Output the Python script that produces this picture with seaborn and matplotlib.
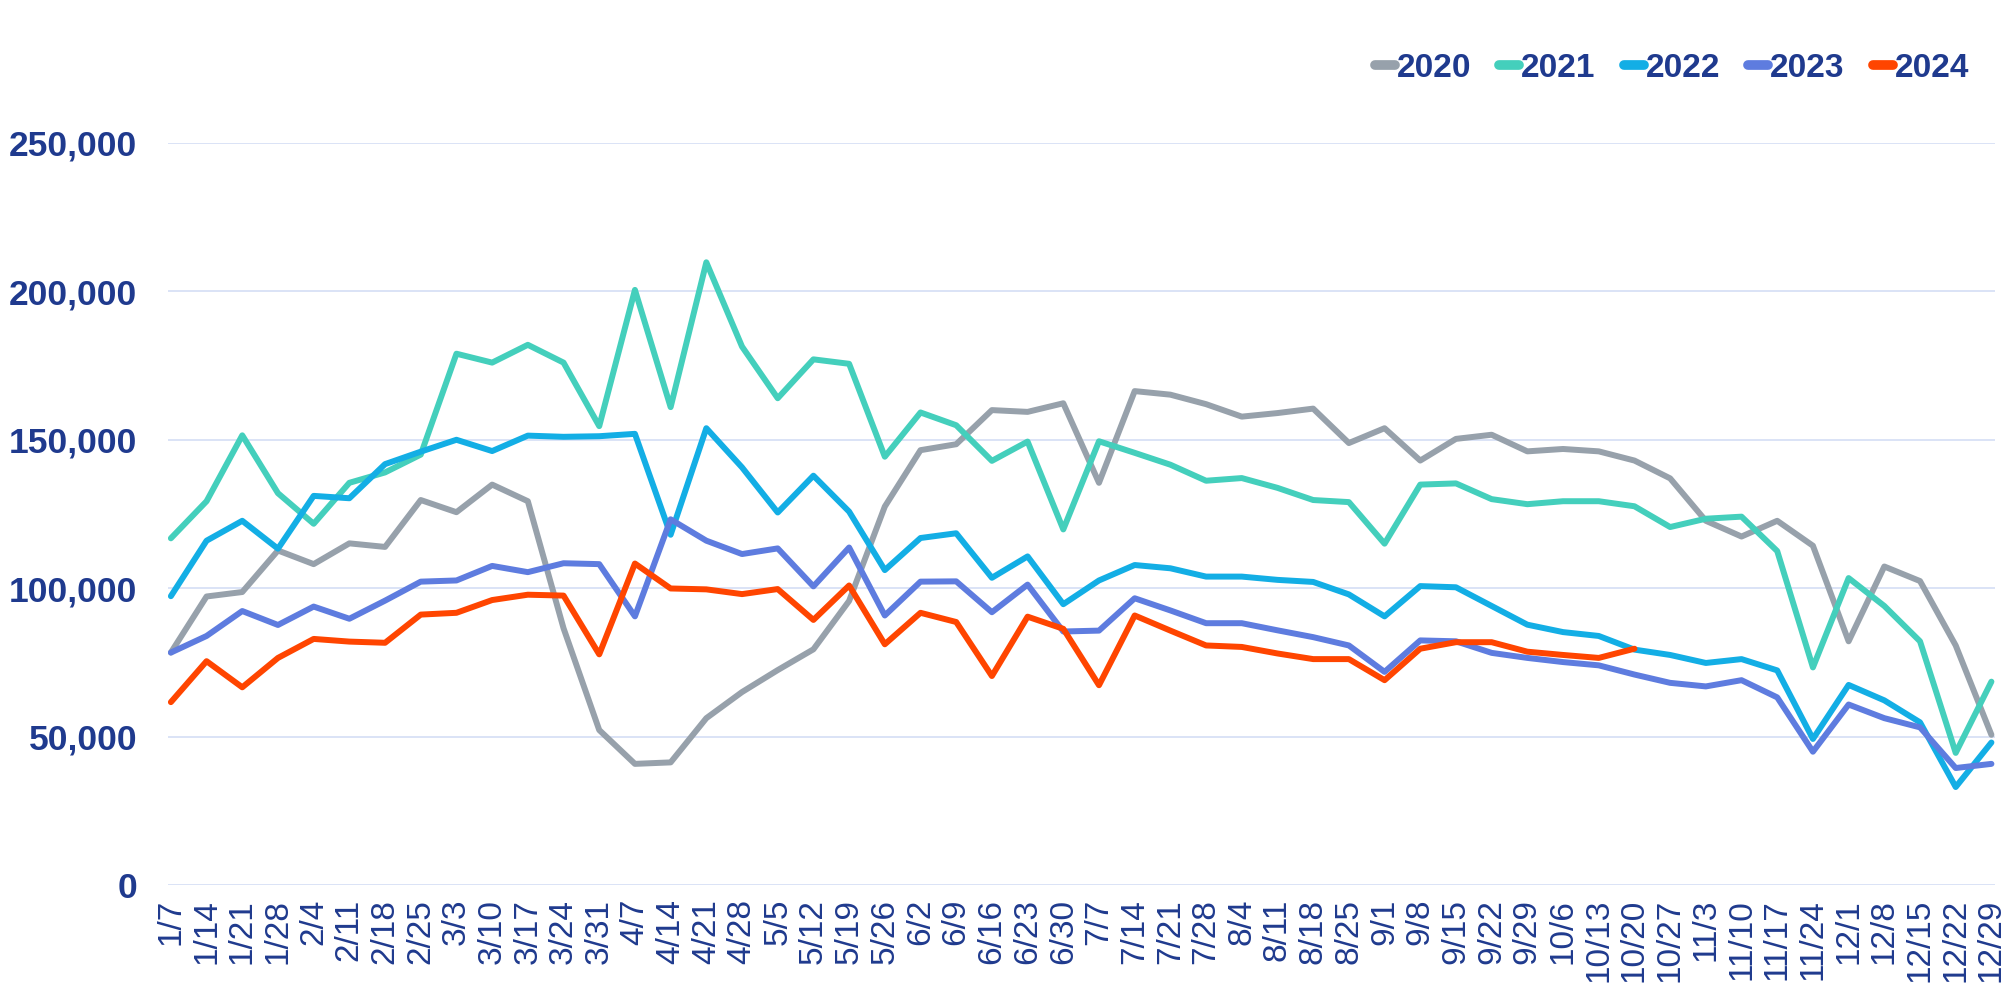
import pandas as pd
import matplotlib.pyplot as plt
import matplotlib.ticker as mticker
import seaborn as sns
import numpy as np

# weekly values
weeks = ['1/7', '1/14', '1/21', '1/28', '2/4', '2/11', '2/18', '2/25', '3/3', '3/10',
         '3/17', '3/24', '3/31', '4/7', '4/14', '4/21', '4/28', '5/5', '5/12', '5/19',
         '5/26', '6/2', '6/9', '6/16', '6/23', '6/30', '7/7', '7/14', '7/21', '7/28',
         '8/4', '8/11', '8/18', '8/25', '9/1', '9/8', '9/15', '9/22', '9/29', '10/6',
         '10/13', '10/20', '10/27', '11/3', '11/10', '11/17', '11/24', '12/1', '12/8',
         '12/15', '12/22', '12/29']

y2020 = [78300, 97200, 98700, 112700, 108100, 115100, 113900, 129700, 125600, 134900,
         129300, 86500, 52200, 40800, 41300, 56200, 65000, 72400, 79400, 95700,
         127500, 146500, 148500, 160000, 159400, 162300, 135500, 166400, 165200, 162000,
         157800, 159000, 160500, 148900, 153900, 143000, 150300, 151700, 146100, 146900,
         146100, 143000, 137000, 122700, 117400, 122700, 114300, 82100, 107300,
         102400, 80700, 50600]
y2021 = [116800, 129300, 151500, 132000, 121700, 135500, 139000, 145000, 179000, 176000,
         182000, 176000, 154600, 200500, 161000, 209800, 181400, 164000, 177100, 175600,
         144300, 159200, 154900, 142900, 149400, 119800, 149500, 145600, 141600, 136200,
         137100, 133800, 129700, 129000, 115000, 134900, 135300, 130000, 128300, 129300,
         129300, 127600, 120600, 123400, 124100, 112500, 73300, 103400, 94000,
         82100, 44500, 68500]
y2022 = [97300, 116000, 122700, 113300, 131100, 130300, 141800, 146000, 150000, 146200,
         151400, 151000, 151200, 152000, 118000, 153900, 140700, 125500, 137900, 125800,
         106100, 116900, 118500, 103500, 110700, 94600, 102600, 107800, 106700, 103900,
         103900, 102800, 102100, 97900, 90500, 100700, 100300, 94000, 87700, 85200,
         83900, 79300, 77500, 74800, 76100, 72300, 49200, 67400, 62200,
         54800, 33000, 48000]
y2023 = [78300, 83900, 92300, 87600, 93800, 89700, 95800, 102200, 102600, 107500,
         105400, 108400, 108100, 90500, 123200, 116000, 111500, 113400, 100600, 113700,
         90800, 102200, 102300, 91900, 101200, 85400, 85700, 96600, 92500, 88200,
         88200, 85800, 83500, 80700, 71800, 82400, 82100, 78200, 76500, 75100,
         74000, 70900, 68100, 66900, 69000, 63200, 44900, 60800, 56200,
         53100, 39400, 40800]
y2024 = [61600, 75400, 66600, 76500, 82900, 82000, 81600, 91100, 91700, 96000,
         97800, 97500, 77700, 108300, 99900, 99600, 98000, 99700, 89300, 100900,
         81100, 91700, 88600, 70400, 90400, 86300, 67300, 90800, 85700, 80700,
         80200, 78000, 76100, 76100, 69000, 79600, 81800, 81800, 78600, 77500,
         76500, 79600] + [np.nan] * 10

years = ['2020', '2021', '2022', '2023', '2024']
colors = ['#97A1AB', '#44CFBC', '#13AEE5', '#5E7CDF', '#FF4500']
text_color = '#1F3A8E'

frames = []
for year, vals in zip(years, [y2020, y2021, y2022, y2023, y2024]):
    frames.append(pd.DataFrame({'week': weeks, 'value': vals, 'year': year}))
df = pd.concat(frames, ignore_index=True).dropna()

sns.set_style('white')
plt.rcParams['font.family'] = ['Liberation Sans', 'DejaVu Sans']

fig = plt.figure(figsize=(20.05, 9.93), dpi=100)
ax = fig.add_axes([0.0838, 0.1088, 0.9112, 0.7472])

sns.lineplot(data=df, x='week', y='value', hue='year', palette=dict(zip(years, colors)),
             estimator=None, errorbar=None, sort=False, linewidth=4.3, legend=False, ax=ax)
for line in ax.lines:
    line.set_solid_joinstyle('round')
    line.set_solid_capstyle('round')

ax.set_ylim(0, 250000)
ax.set_xlim(-0.08, 51.1)
ax.yaxis.set_major_locator(mticker.MultipleLocator(50000))
ax.yaxis.set_major_formatter(mticker.FuncFormatter(lambda v, p: f'{v:,.0f}'))
ax.grid(axis='y', color='#D8E0F6', linewidth=1.3)
ax.set_axisbelow(True)
for s in ax.spines.values():
    s.set_visible(False)
ax.set_xlabel('')
ax.set_ylabel('')

ax.tick_params(axis='y', length=0, pad=22, labelsize=25.5, labelcolor=text_color)
ax.tick_params(axis='x', length=0, pad=10, labelsize=24, labelcolor=text_color, rotation=90)
for t in ax.get_yticklabels():
    t.set_fontweight('bold')

handles = ax.lines[:len(years)]
leg = fig.legend(handles, years, loc='center right', bbox_to_anchor=(0.982, 0.931),
                 ncol=5, frameon=False, handlelength=0.6, handletextpad=0.05,
                 columnspacing=0.85, borderpad=0, borderaxespad=0,
                 prop={'weight': 'bold', 'size': 24})
for t in leg.get_texts():
    t.set_color(text_color)
for h in leg.legend_handles:
    h.set_linewidth(7)
    h.set_solid_capstyle('round')

fig.savefig('out.png', dpi=100)
